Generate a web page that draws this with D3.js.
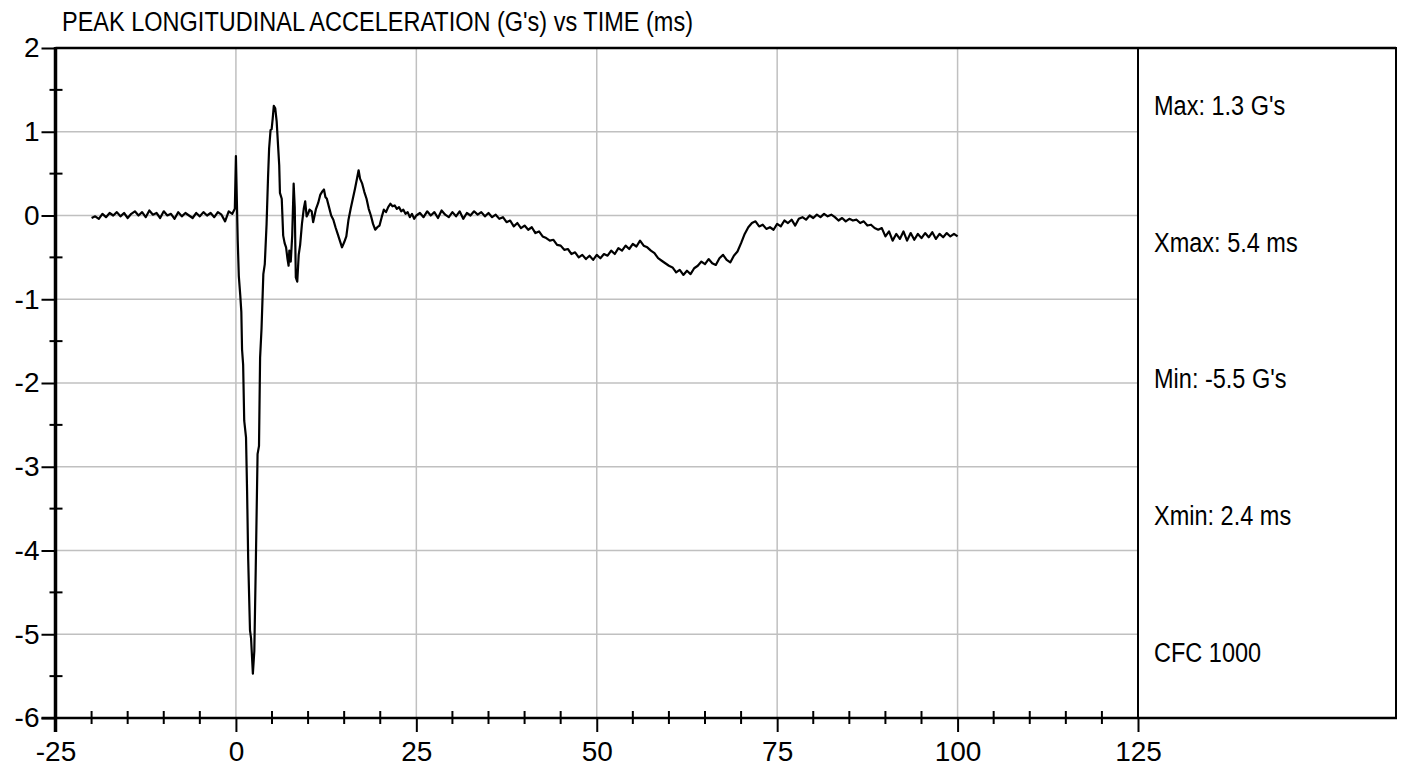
<!DOCTYPE html>
<html>
<head>
<meta charset="utf-8">
<script src="https://cdn.jsdelivr.net/npm/d3@7/dist/d3.min.js"></script>
<style>
  html, body { margin: 0; padding: 0; background: #fff; }
  svg { display: block; }
  .narrow { font-family: "Liberation Sans Narrow", "Arial Narrow", "Liberation Sans", sans-serif; font-size: 28px; fill: #000; }
  .tick text { font-family: "Liberation Sans", Arial, sans-serif; font-size: 28px; fill: #000; }
</style>
</head>
<body>
<svg id="chart" width="1405" height="772"></svg>
<script>
// time (ms), acceleration (G's)
const preTrigger= [
  [-20,-0.03],[-19.5,-0.01],[-19,-0.04],[-18.5,0.02],[-18,-0.02],[-17.5,0.03],[-17,0],[-16.5,0.04],
  [-16,-0.01],[-15.5,0.03],[-15,-0.03],[-14.5,0.02],[-14,0.05],[-13.5,0],[-13,0.04],[-12.5,-0.02],
  [-12,0.06],[-11.5,0.01],[-11,0.03],[-10.5,-0.03],[-10,0.05],[-9.5,0],[-9,0.02],[-8.5,-0.04],
  [-8,0.04],[-7.5,-0.01],[-7,0.03],[-6.5,0],[-6,-0.03],[-5.5,0.03],[-5,-0.01],[-4.5,0.04],
  [-4,0],[-3.5,0.03],[-3,-0.02],[-2.5,0.04],[-2,0.01],[-1.5,-0.07],[-1,0.05],[-0.5,0.02],[-0.15,0.08]
];

const impact= [
  [0,0.71],[0.15,0.1],[0.25,-0.3],[0.4,-0.72],[0.6,-0.95],[0.75,-1.15],[0.85,-1.6],[1,-1.78],
  [1.15,-2.45],[1.4,-2.65],[1.55,-3.3],[1.7,-4.1],[1.95,-4.95],[2.1,-5.05],[2.35,-5.47],[2.55,-5.2],
  [2.75,-4.2],[3,-2.85],[3.2,-2.75],[3.35,-1.7],[3.55,-1.35],[3.8,-0.7],[4,-0.58],[4.25,-0.1],
  [4.45,0.45],[4.6,0.8],[4.8,1.02],[4.95,1.03],[5.1,1.16],[5.25,1.31],[5.45,1.28],[5.65,1.12],
  [5.85,0.82],[6,0.6],[6.1,0.27],[6.35,0.2],[6.55,-0.24],[6.75,-0.33],[6.95,-0.38],[7.15,-0.52],
  [7.3,-0.6],[7.4,-0.42],[7.6,-0.55],[7.8,-0.24],[8,0.38],[8.15,0.1],[8.3,-0.74],[8.5,-0.79],
  [8.7,-0.47],[8.9,-0.35],[9.15,-0.1],[9.4,0.08],[9.6,0.17],[9.8,-0.01],[10,0.02],[10.2,0.07],
  [10.5,0.05],[10.7,-0.08],[10.9,0],[11.1,0.08],[11.4,0.15],[11.7,0.25],[12,0.29],[12.2,0.31],
  [12.4,0.22],[12.6,0.2],[12.9,0.1],[13.2,0],[13.5,-0.05],[13.8,-0.14],[14.1,-0.22],[14.4,-0.3],
  [14.7,-0.38],[15,-0.32],[15.3,-0.25],[15.6,-0.05],[15.9,0.08],[16.2,0.2],[16.5,0.32],[16.8,0.45],
  [17,0.54],[17.2,0.44],[17.5,0.38],[17.8,0.28],[18.1,0.2],[18.4,0.08],[18.7,0],[19,-0.1],
  [19.3,-0.17],[19.6,-0.14],[19.9,-0.12],[20.2,-0.02],[20.5,0.07],[20.8,0.04],[21.1,0.1],[21.4,0.14],
  [21.7,0.11],[22,0.12],[22.3,0.08],[22.6,0.1],[22.9,0.05],[23.2,0.07],[23.5,0.02],[23.8,0.04],
  [24.1,-0.02],[24.4,0.02],[24.7,-0.04],[25,0]
];

const rideDown= [
  [25.5,0.03],[26,-0.02],[26.5,0.05],[27,0],[27.5,0.04],[28,-0.03],[28.5,0.06],[29,0.01],
  [29.5,-0.02],[30,0.04],[30.5,-0.01],[31,0.05],[31.5,-0.04],[32,0.03],[32.5,0],[33,0.05],
  [33.5,0.01],[34,0.04],[34.5,-0.01],[35,0.03],[35.5,-0.02],[36,0.01],[36.5,-0.04],[37,-0.02],
  [37.5,-0.08],[38,-0.06],[38.5,-0.13],[39,-0.09],[39.5,-0.15],[40,-0.12],[40.5,-0.17],[41,-0.14],
  [41.5,-0.21],[42,-0.19],[42.5,-0.25],[43,-0.27],[43.5,-0.3],[44,-0.29],[44.5,-0.35],[45,-0.36],
  [45.5,-0.41],[46,-0.4],[46.5,-0.46],[47,-0.44],[47.5,-0.5],[48,-0.47],[48.5,-0.52],[49,-0.48],
  [49.5,-0.53],[50,-0.47],[50.5,-0.51],[51,-0.46],[51.5,-0.48],[52,-0.42],[52.5,-0.46],[53,-0.39],
  [53.5,-0.42],[54,-0.36],[54.5,-0.4],[55,-0.34],[55.5,-0.37],[56,-0.3],[56.5,-0.36],[57,-0.38],
  [57.5,-0.42],[58,-0.45],[58.5,-0.51],[59,-0.54],[59.5,-0.57],[60,-0.6],[60.5,-0.62],[61,-0.68],
  [61.5,-0.65],[62,-0.71],[62.5,-0.66],[63,-0.7],[63.5,-0.63],[64,-0.6],[64.5,-0.55],[65,-0.58],
  [65.5,-0.52],[66,-0.57],[66.5,-0.59],[67,-0.51],[67.5,-0.47],[68,-0.53],[68.5,-0.56],[69,-0.48],
  [69.5,-0.43],[70,-0.33],[70.5,-0.22],[71,-0.14],[71.5,-0.09],[72,-0.07],[72.5,-0.13],[73,-0.11],
  [73.5,-0.16],[74,-0.14],[74.5,-0.17],[75,-0.1],[75.5,-0.13],[76,-0.06],[76.5,-0.09],[77,-0.05],
  [77.5,-0.12],[78,-0.04],[78.5,-0.02],[79,-0.05],[79.5,0],[80,-0.03],[80.5,0.01],[81,-0.02],
  [81.5,0.02],[82,-0.01],[82.5,0.01],[83,-0.02],[83.5,-0.06],[84,-0.03],[84.5,-0.07],[85,-0.04],
  [85.5,-0.06],[86,-0.05],[86.5,-0.09],[87,-0.07],[87.5,-0.12],[88,-0.11],[88.5,-0.15],[89,-0.17],
  [89.5,-0.15],[90,-0.25],[90.5,-0.19],[91,-0.3],[91.5,-0.22],[92,-0.28],[92.5,-0.19],[93,-0.3],
  [93.5,-0.21],[94,-0.29],[94.5,-0.22],[95,-0.27],[95.5,-0.21],[96,-0.26],[96.5,-0.2],[97,-0.28],
  [97.5,-0.22],[98,-0.26],[98.5,-0.21],[99,-0.25],[99.5,-0.22],[100,-0.25]
];

const xTicks= [-25, 0, 25, 50, 75, 100, 125];
const xMinor= [-20, -15, -10, -5, 5, 10, 15, 20, 30, 35, 40, 45, 55, 60, 65, 70, 80, 85, 90, 95, 105, 110, 115, 120];
const yTicks= [-6, -5, -4, -3, -2, -1, 0, 1, 2];
const yMinor= [-5.5, -4.5, -3.5, -2.5, -1.5, -0.5, 0.5, 1.5];
const xGrid= [0, 25, 50, 75, 100];
const yGrid= [-5, -4, -3, -2, -1, 0, 1];

const title= "PEAK LONGITUDINAL ACCELERATION (G's) vs TIME (ms)";
const stats= ["Max: 1.3 G's", "Xmax: 5.4 ms", "Min: -5.5 G's", "Xmin: 2.4 ms", "CFC 1000"];

const L= 55.5, R= 1138, T= 48, B= 718, PANEL_R= 1396;
const SQUEEZE= 0.84;  // no narrow face installed: condense the regular one

const svg= d3.select('#chart');
const x= d3.scaleLinear().domain([-25, 125]).range([L, R]);
const y= d3.scaleLinear().domain([-6, 2]).range([B, T]);

// grid
svg.append('g').selectAll('line').data(xGrid).join('line')
  .attr('x1', d => x(d)).attr('x2', d => x(d)).attr('y1', T).attr('y2', B)
  .attr('stroke', '#c0c0c0').attr('stroke-width', 1.5);
svg.append('g').selectAll('line').data(yGrid).join('line')
  .attr('x1', L).attr('x2', R).attr('y1', d => y(d)).attr('y2', d => y(d))
  .attr('stroke', '#c0c0c0').attr('stroke-width', 1.5);

// trace
const series= preTrigger.concat(impact, rideDown);
const line= d3.line().x(d => x(d[0])).y(d => y(d[1]));
svg.append('path').datum(series)
  .attr('d', line)
  .attr('fill', 'none')
  .attr('stroke', '#000')
  .attr('stroke-width', 2.2)
  .attr('stroke-linejoin', 'round');

// frame: top border, right panel
svg.append('line').attr('x1', L).attr('x2', PANEL_R).attr('y1', T).attr('y2', T)
  .attr('stroke', '#000').attr('stroke-width', 2.5);
svg.append('rect').attr('x', R).attr('y', T).attr('width', PANEL_R-R).attr('height', B-T)
  .attr('fill', 'none').attr('stroke', '#000').attr('stroke-width', 2);

// axes
const fmt= d => String(d);
const yAxis= d3.axisLeft(y).tickValues(yTicks).tickFormat(fmt).tickSize(14).tickSizeOuter(0).tickPadding(2);
const gy= svg.append('g').attr('transform', `translate(${L},0)`).call(yAxis);
gy.select('.domain').remove();
gy.selectAll('.tick line').attr('stroke', '#000').attr('stroke-width', 2);

const xAxis= d3.axisBottom(x).tickValues(xTicks).tickFormat(fmt).tickSize(14).tickSizeOuter(0).tickPadding(9);
const gx= svg.append('g').attr('transform', `translate(0,${B})`).call(xAxis);
gx.select('.domain').remove();
gx.selectAll('.tick line').attr('stroke', '#000').attr('stroke-width', 2);

svg.append('g').selectAll('line').data(yMinor).join('line')
  .attr('x1', L-6).attr('x2', L+7).attr('y1', d => y(d)).attr('y2', d => y(d))
  .attr('stroke', '#000').attr('stroke-width', 2);
svg.append('g').selectAll('line').data(xMinor).join('line')
  .attr('x1', d => x(d)).attr('x2', d => x(d)).attr('y1', B-7).attr('y2', B+6)
  .attr('stroke', '#000').attr('stroke-width', 2);

svg.append('line').attr('x1', L-14).attr('x2', PANEL_R+1).attr('y1', B).attr('y2', B)
  .attr('stroke', '#000').attr('stroke-width', 2.5);
svg.append('line').attr('x1', L).attr('x2', L).attr('y1', T-1).attr('y2', B+14)
  .attr('stroke', '#000').attr('stroke-width', 3.5);

// title and stats
svg.append('text').attr('class', 'narrow')
  .attr('transform', `translate(62,31) scale(${SQUEEZE},1)`)
  .text(title);

svg.append('g').selectAll('text').data(stats).join('text')
  .attr('class', 'narrow')
  .attr('transform', (d, i) => `translate(1154,${115+i*136.7}) scale(${SQUEEZE},1)`)
  .text(d => d);
</script>
</body>
</html>
